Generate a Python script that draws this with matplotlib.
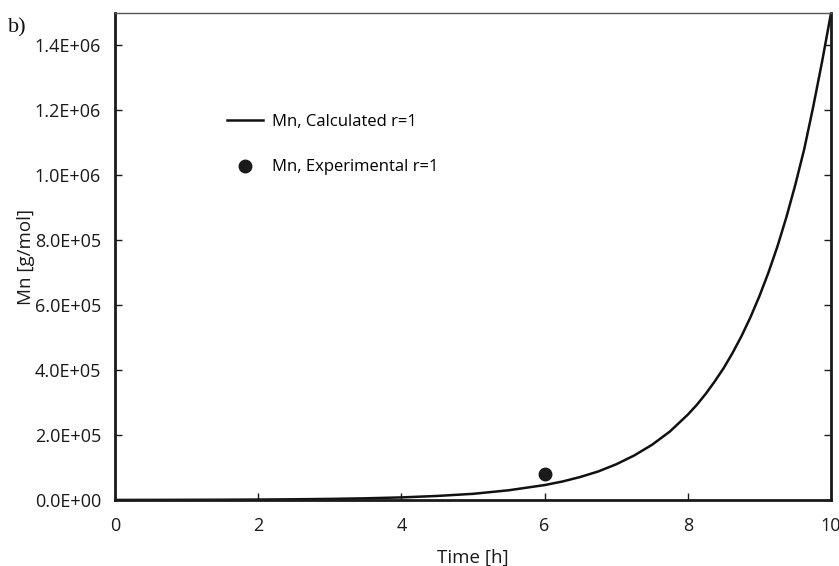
import matplotlib
matplotlib.use("Agg")
import matplotlib.pyplot as plt
from matplotlib.ticker import FuncFormatter

# calculated Mn vs time (r=1)
time_calc = [0.0, 0.5, 1.0, 1.5, 2.0, 2.5, 3.0, 3.5, 4.0, 4.5, 5.0, 5.5,
             6.0, 6.25, 6.5, 6.75, 7.0, 7.25, 7.5, 7.75,
             8.0, 8.125, 8.25, 8.375, 8.5, 8.625, 8.75, 8.875,
             9.0, 9.125, 9.25, 9.375, 9.5, 9.625, 9.75, 9.875, 10.0]
mn_calc = [250, 380, 590, 900, 1.4e3, 2.2e3, 3.4e3, 5.2e3, 8.0e3, 1.25e4, 1.9e4, 3.0e4,
           4.6e4, 5.7e4, 7.1e4, 8.8e4, 1.10e5, 1.37e5, 1.70e5, 2.11e5,
           2.63e5, 2.93e5, 3.27e5, 3.65e5, 4.06e5, 4.53e5, 5.05e5, 5.63e5,
           6.28e5, 7.0e5, 7.8e5, 8.7e5, 9.7e5, 1.08e6, 1.21e6, 1.35e6, 1.50e6]

# experimental point
time_exp = [6.0]
mn_exp = [8.0e4]

xticks = [0, 2, 4, 6, 8, 10]
yticks = [0, 2e5, 4e5, 6e5, 8e5, 1.0e6, 1.2e6, 1.4e6]

plt.rcParams['font.family'] = ['Open Sans', 'DejaVu Sans']

fig = plt.figure(figsize=(8.39, 5.66), dpi=100)
ax = fig.add_axes([0.137, 0.1166, 0.8535, 0.8604])

ax.plot(time_calc, mn_calc, color='#111111', lw=1.8, label='Mn, Calculated r=1')
ax.plot(time_exp, mn_exp, 'o', color='#1a1a1a', ms=9, label='Mn, Experimental r=1')

ax.set_xlim(0, 10)
ax.set_ylim(0, 1.5e6)
ax.set_xticks(xticks)
ax.set_yticks(yticks)
ax.yaxis.set_major_formatter(FuncFormatter(lambda v, p: '{:.1E}'.format(v)))

ax.tick_params(axis='both', direction='in', length=5, width=1, labelsize=13,
               colors='#1a1a1a')
ax.tick_params(axis='y', right=True, pad=10)
ax.tick_params(axis='x', pad=12)

for side in ['left', 'bottom', 'right']:
    ax.spines[side].set_linewidth(2)
    ax.spines[side].set_color('#1a1a1a')
ax.spines['top'].set_linewidth(1)
ax.spines['top'].set_color('#555555')

ax.set_xlabel('Time [h]', fontsize=13.5, color='#1a1a1a', labelpad=10)
ax.set_ylabel('Mn [g/mol]', fontsize=13.5, color='#1a1a1a', labelpad=0)

ax.legend(loc='upper left', bbox_to_anchor=(0.135, 0.823), frameon=False,
          fontsize=12, handlelength=2.2, handletextpad=0.5, labelspacing=1.75)

fig.text(0.01, 0.943, 'b)', fontsize=16, family='Liberation Serif', color='#111111')

fig.savefig('out.png', dpi=100)
